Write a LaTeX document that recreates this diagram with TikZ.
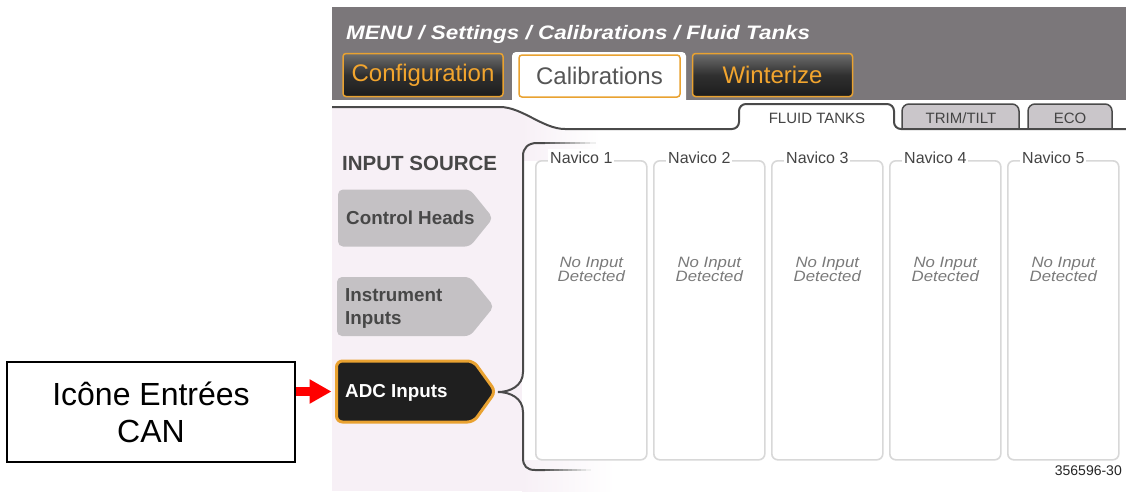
\documentclass[tikz,border=0pt]{standalone}
\usepackage{fontspec}
\setmainfont{Liberation Sans}
\newfontfamily\hdrfont[FakeStretch=1.15]{Liberation Sans}
\newfontfamily\noinfont[FakeStretch=1.12]{Liberation Sans}
\usetikzlibrary{arrows.meta,calc}
\definecolor{hdrgray}{HTML}{7B777A}
\definecolor{lav}{HTML}{F7F0F6}
\definecolor{btngray}{HTML}{C4C1C4}
\definecolor{btntext}{HTML}{474747}
\definecolor{orng}{HTML}{E9A231}
\definecolor{orngtext}{HTML}{F2A52E}
\definecolor{tabgray}{HTML}{CAC6CA}
\definecolor{linegray}{HTML}{4A4A4A}
\definecolor{boxgray}{HTML}{D8D8D8}
\definecolor{labgray}{HTML}{444444}
\definecolor{noin}{HTML}{7A7A7A}
\definecolor{adcfill}{HTML}{1F1F1F}
\definecolor{btntop}{HTML}{6E6E6E}
\definecolor{btnmid}{HTML}{303030}
\definecolor{btnbot}{HTML}{1C1C1C}
\definecolor{caltext}{HTML}{555555}
\begin{document}
\begin{tikzpicture}[x=1pt,y=-1pt,
  darkbtn/.style={draw=orng, line width=1.5pt, rounded corners=3pt,
    top color=btntop, bottom color=btnbot, middle color=btnmid,
    minimum width=160pt, minimum height=43pt, inner sep=0pt,
    text=orngtext, font=\fontsize{24}{28}\selectfont},
  calbtn/.style={draw=orng, line width=1.5pt, rounded corners=3pt, fill=white,
    minimum width=161pt, minimum height=42pt, inner sep=0pt,
    text=caltext, font=\fontsize{24}{28}\selectfont},
  btnarea/.style={inner sep=0pt, outer sep=0pt},
  btnlabel/.style={inner sep=0pt, align=left, text=btntext,
    font=\bfseries\fontsize{18.8}{23}\selectfont},
  graytab/.style={fill=tabgray, draw=linegray, line width=1.5pt, rounded corners=7pt},
  tabtxt/.style={inner sep=0pt, text=labgray, font=\fontsize{15}{18}\selectfont},
  divline/.style={draw=linegray, line width=2pt},
  navbox/.style={draw=boxgray, line width=1.6pt, rounded corners=6pt, fill=white,
    inner sep=0pt, minimum width=111pt, minimum height=299pt},
  navlabel/.style={fill=white, inner sep=2pt, text=labgray, font=\fontsize{16}{19}\selectfont},
  noinput/.style={align=center, inner sep=0pt, text=noin,
    font=\noinfont\itshape\fontsize{15}{14}\selectfont},
  lblbox/.style={draw=black, line width=2pt, minimum width=288pt, minimum height=100pt,
    inner sep=0pt, align=center, font=\fontsize{32}{37}\selectfont},
  redarrow/.style={draw=red, line width=9pt, -{Triangle[length=22pt,width=23pt]}, shorten >=5pt}
]
\useasboundingbox (0,0) rectangle (1126,491);
\fill[white] (0,0) rectangle (1126,491);
% screenshot background
\fill[hdrgray] (332,7) rectangle (1126,100);
\fill[lav] (332,107) rectangle (522,491);
\shade[left color=lav, right color=white] (522,107) rectangle (600,160);
\shade[left color=lav, right color=white] (522,460) rectangle (615,491);
\fill[white] (500,107) .. controls (522,107) and (543,129) .. (565,129) -- (739,129) -- (739,107) -- cycle;

% header
\node[anchor=base west, inner sep=0pt, text=white,
  font=\hdrfont\bfseries\itshape\fontsize{19.5}{22}\selectfont] (crumb) at (346,39)
  {MENU / Settings / Calibrations / Fluid Tanks};
\node[darkbtn] (cfg) at (423,75) {Configuration};
\fill[white, rounded corners=4pt] (512,52) rectangle (686,110);
\node[calbtn] (cal) at (599.5,76) {Calibrations};
\node[darkbtn] (wint) at (772.5,75) {Winterize};

% tabs
\filldraw[graytab] (902,129) -- (902,104) -- (1019,104) -- (1019,129);
\filldraw[graytab] (1028,129) -- (1028,104) -- (1112,104) -- (1112,129);
\draw[divline] (332,107) -- (500,107) .. controls (522,107) and (543,129) .. (565,129)
  [rounded corners=7pt] -- (739,129) -- (739,104) -- (894,104) -- (894,129) -- (1126,129);
\node[tabtxt] (tfluid) at (817,118.5) {FLUID TANKS};
\node[tabtxt] (ttrim) at (961,118.5) {TRIM/TILT};
\node[tabtxt] (teco) at (1070,118.5) {ECO};

% left panel
\node[anchor=base west, inner sep=0pt, text=btntext,
  font=\bfseries\fontsize{20.5}{24}\selectfont] (src) at (342,170) {INPUT SOURCE};

\node[btnarea, minimum width=155pt, minimum height=57pt] (ch) at (415.5,218) {};
\fill[btngray, rounded corners=5pt] (ch.north west) -- ($(ch.north east)+(-23,0)$)
  -- (ch.east) -- ($(ch.south east)+(-23,0)$) -- (ch.south west) -- cycle;
\node[btnlabel, anchor=west] (chl) at (346,218) {Control Heads};

\node[btnarea, minimum width=157pt, minimum height=59pt] (ins) at (415.5,306.5) {};
\fill[btngray, rounded corners=5pt] (ins.north west) -- ($(ins.north east)+(-24,0)$)
  -- (ins.east) -- ($(ins.south east)+(-24,0)$) -- (ins.south west) -- cycle;
\node[btnlabel, anchor=west] (insl) at (345,308) {Instrument\\Inputs};

\node[btnarea, minimum width=159pt, minimum height=61pt] (adc) at (416,391.5) {};
\filldraw[fill=adcfill, draw=orng, line width=3pt, rounded corners=6pt]
  (adc.north west) -- ($(adc.north east)+(-22,0)$) -- (adc.east)
  -- ($(adc.south east)+(-22,0)$) -- (adc.south west) -- cycle;
\node[btnlabel, anchor=west, text=white] (adcl) at (345,392.5) {ADC Inputs};

% brace
\draw[divline] (545,143) -- (537,143) .. controls (528,143) and (523,148) .. (523,156)
  -- (523,372) .. controls (523,386) and (510,392) .. (498,392)
  .. controls (510,392) and (523,398) .. (523,412)
  -- (523,458) .. controls (523,466) and (527,470) .. (535,470) -- (545,470);
\foreach \i in {0,...,9}{
  \pgfmathsetmacro\c{90-9*\i}
  \draw[line width=2pt, draw=linegray!\c!white] (545+5*\i,143) -- (550.5+5*\i,143);
  \draw[line width=2pt, draw=linegray!\c!white] (545+4.5*\i,470) -- (550+4.5*\i,470);
}

% Navico boxes
\foreach \i in {1,...,5}{
  \pgfmathsetmacro\xl{535+118*(\i-1)}
  \node[navbox, anchor=north west] (box\i) at (\xl,160) {};
  \node[navlabel, anchor=base west] (lab\i) at ($(box\i.north west)+(13,3)$) {Navico \i};
  \node[noinput] (ni\i) at ($(box\i.north)+(0,109)$) {No Input\\Detected};
}

% callout
\node[lblbox] (lbl) at (151,412) {Icône Entrées\\CAN};
\draw[redarrow] (lbl.east |- adc.west) -- (adc.west);

\node[anchor=base east, inner sep=0pt, text=black!85,
  font=\fontsize{14}{16}\selectfont] (num) at (1122,475) {356596-30};
\end{tikzpicture}
\end{document}
